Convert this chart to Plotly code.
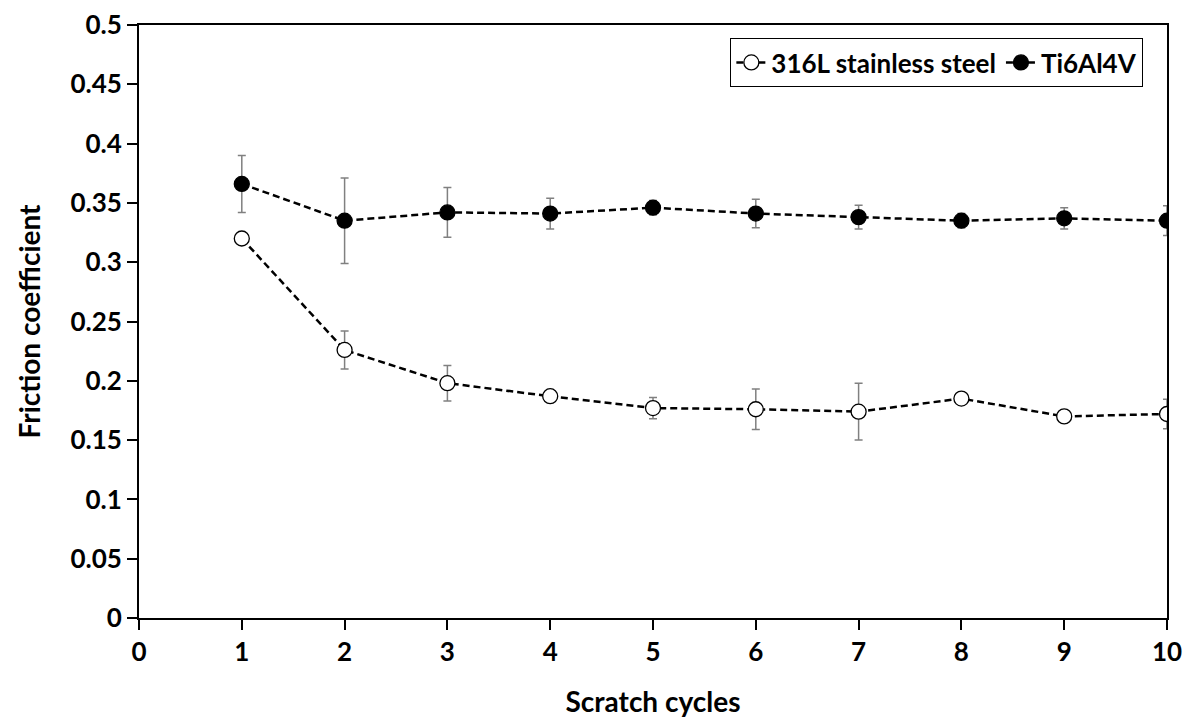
import plotly.graph_objects as go

cycles = [1, 2, 3, 4, 5, 6, 7, 8, 9, 10]

steel_mean = [0.320, 0.226, 0.198, 0.187, 0.177, 0.176, 0.174, 0.185, 0.170, 0.172]
steel_err = [0.003, 0.016, 0.015, 0.002, 0.009, 0.017, 0.024, 0.002, 0.005, 0.0125]

ti_mean = [0.366, 0.335, 0.342, 0.341, 0.346, 0.341, 0.338, 0.335, 0.337, 0.335]
ti_err = [0.024, 0.036, 0.021, 0.013, 0.006, 0.012, 0.010, 0.006, 0.009, 0.0125]

x_ticks = [0, 1, 2, 3, 4, 5, 6, 7, 8, 9, 10]
y_ticks = [0, 0.05, 0.1, 0.15, 0.2, 0.25, 0.3, 0.35, 0.4, 0.45, 0.5]
y_labels = ["0", "0.05", "0.1", "0.15", "0.2", "0.25", "0.3", "0.35", "0.4", "0.45", "0.5"]

FONT = "Lato, Carlito, Calibri, sans-serif"


def series(name, y, err, fill):
    return go.Scatter(
        x=cycles,
        y=y,
        name=name,
        mode="lines+markers",
        line=dict(color="black", width=2.5, dash="7px,4px"),
        marker=dict(
            symbol="circle",
            size=15,
            color=fill,
            line=dict(color="black", width=1.3),
        ),
        error_y=dict(
            type="data",
            array=err,
            visible=True,
            color="#808080",
            thickness=1.5,
            width=4,
        ),
    )


fig = go.Figure()
fig.add_trace(series("316L stainless steel", steel_mean, steel_err, "white"))
fig.add_trace(series("Ti6Al4V", ti_mean, ti_err, "black"))

# the page body adds an 8px offset, margins are set to compensate
fig.update_layout(
    width=1197,
    height=722,
    paper_bgcolor="white",
    plot_bgcolor="white",
    margin=dict(l=131, r=38, t=17, b=112, autoexpand=False),
    font=dict(family=FONT, size=26, color="black"),
    legend=dict(
        orientation="h",
        x=0.977,
        xanchor="right",
        y=0.978,
        yanchor="top",
        bordercolor="black",
        borderwidth=1,
        bgcolor="white",
        font=dict(family=FONT, size=26, color="black", weight="bold"),
        itemwidth=30,
        tracegroupgap=0,
    ),
)

fig.update_xaxes(
    range=[0, 10],
    tickvals=x_ticks,
    ticktext=[str(t) for t in x_ticks],
    showgrid=False,
    zeroline=False,
    showline=True,
    linecolor="black",
    linewidth=2,
    mirror=True,
    ticks="outside",
    ticklen=10,
    tickwidth=2,
    tickcolor="black",
    automargin=False,
    ticklabeloverflow="allow",
    tickfont=dict(family=FONT, size=26, color="black", weight="bold"),
    title=dict(
        text="<b>Scratch cycles</b>",
        font=dict(family=FONT, size=28, color="black"),
        standoff=26,
    ),
)

fig.update_yaxes(
    range=[0, 0.5],
    tickvals=y_ticks,
    ticktext=y_labels,
    showgrid=False,
    zeroline=False,
    showline=True,
    linecolor="black",
    linewidth=2,
    mirror=True,
    ticks="outside",
    ticklen=10,
    tickwidth=2,
    tickcolor="black",
    automargin=False,
    ticklabeloverflow="allow",
    tickfont=dict(family=FONT, size=26, color="black", weight="bold"),
    title=dict(
        text="<b>Friction coefficient</b>",
        font=dict(family=FONT, size=28, color="black"),
        standoff=22,
    ),
)

fig.write_html("out.html")
